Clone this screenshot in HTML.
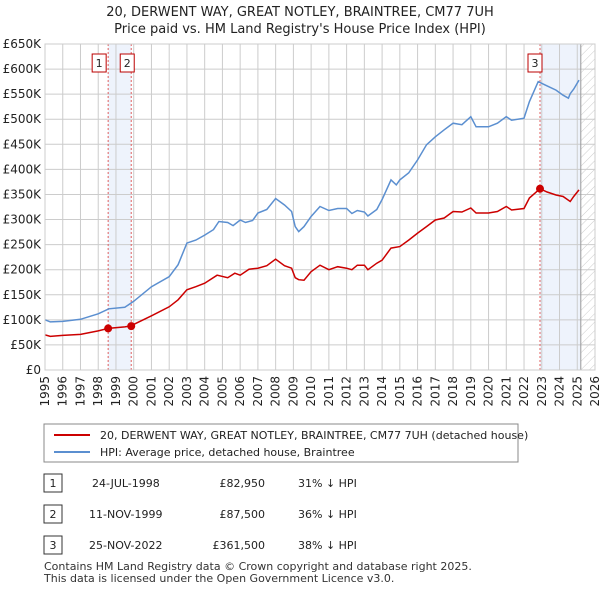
<!DOCTYPE html>
<html><head><meta charset="utf-8"><style>
body{margin:0;background:#fff;font-family:"Liberation Sans",sans-serif;}
svg text{font-family:"DejaVu Sans","Liberation Sans",sans-serif;}
</style></head><body>
<svg id="c" width="600" height="590" xmlns="http://www.w3.org/2000/svg">
<defs><pattern id="hatch" width="6" height="6" patternUnits="userSpaceOnUse" patternTransform="rotate(45)"><line x1="0" y1="0" x2="0" y2="6" stroke="#ccc" stroke-width="1"/></pattern></defs>
<text x="300" y="16" font-size="13" text-anchor="middle" fill="#222">20, DERWENT WAY, GREAT NOTLEY, BRAINTREE, CM77 7UH</text>
<text x="300" y="33" font-size="13" text-anchor="middle" fill="#222">Price paid vs. HM Land Registry's House Price Index (HPI)</text>
<g id="plot"></g>
<g>
<rect x="44" y="424" width="474" height="38" fill="#fff" stroke="#888"/>
<line x1="54" y1="435" x2="90" y2="435" stroke="#cc0000" stroke-width="2"/>
<text x="100" y="439" font-size="11" fill="#222">20, DERWENT WAY, GREAT NOTLEY, BRAINTREE, CM77 7UH (detached house)</text>
<line x1="54" y1="452" x2="90" y2="452" stroke="#5b8fd0" stroke-width="2"/>
<text x="100" y="456" font-size="11" fill="#222">HPI: Average price, detached house, Braintree</text>
</g>
<g font-size="11" fill="#222">
<rect x="44" y="474" width="18" height="18" fill="#fff" stroke="#333"/><text x="53" y="487" text-anchor="middle">1</text>
<text x="92" y="487">24-JUL-1998</text><text x="265" y="487" text-anchor="end">£82,950</text><text x="298" y="487">31% ↓ HPI</text>
<rect x="44" y="505" width="18" height="18" fill="#fff" stroke="#333"/><text x="53" y="518" text-anchor="middle">2</text>
<text x="89" y="518">11-NOV-1999</text><text x="265" y="518" text-anchor="end">£87,500</text><text x="298" y="518">36% ↓ HPI</text>
<rect x="44" y="536" width="18" height="18" fill="#fff" stroke="#333"/><text x="53" y="549" text-anchor="middle">3</text>
<text x="89" y="549">25-NOV-2022</text><text x="265" y="549" text-anchor="end">£361,500</text><text x="298" y="549">38% ↓ HPI</text>
</g>
<text x="44" y="570" font-size="11" fill="#333">Contains HM Land Registry data © Crown copyright and database right 2025.</text>
<text x="44" y="582" font-size="11" fill="#333">This data is licensed under the Open Government Licence v3.0.</text>
</svg>
<script>
const hpiYears=[1995,1995.3,1996,1997,1998,1998.6,1999.5,2000,2001,2002,2002.5,2003,2003.5,2004,2004.5,2004.8,2005.3,2005.6,2006,2006.3,2006.7,2007,2007.5,2008,2008.5,2008.9,2009.1,2009.3,2009.6,2010,2010.5,2011,2011.5,2012,2012.3,2012.6,2013,2013.2,2013.7,2014,2014.5,2014.8,2015,2015.5,2016,2016.5,2017,2017.5,2018,2018.5,2019,2019.3,2020,2020.5,2021,2021.3,2022,2022.3,2022.8,2023.2,2023.8,2024.2,2024.5,2024.6,2024.8,2025.1];
const hpiValues=[100,96,97,101,112,122,125,137,166,186,210,253,259,269,280,296,294,288,299,294,298,313,320,342,329,316,286,276,286,306,326,318,322,322,312,318,315,307,320,340,379,369,379,393,419,449,465,479,492,489,505,485,485,492,505,498,502,535,575,568,558,548,542,551,560,578];
const ppYears=[1995,1995.3,1996,1997,1998,1998.56,1999.5,1999.86,2000,2001,2002,2002.5,2003,2003.5,2004,2004.7,2005.3,2005.7,2006,2006.5,2007,2007.5,2008,2008.5,2008.9,2009.1,2009.3,2009.6,2010,2010.5,2011,2011.5,2012,2012.3,2012.6,2013,2013.2,2013.7,2014,2014.5,2015,2015.5,2016,2016.5,2017,2017.5,2018,2018.5,2019,2019.3,2020,2020.5,2021,2021.3,2022,2022.3,2022.9,2023.3,2023.8,2024.2,2024.6,2024.8,2025.1];
const ppValues=[70,67,69,71,78,83,86,88,91,108,126,140,160,166,173,189,184,193,189,201,203,208,221,208,203,184,180,179,196,209,200,206,203,200,209,209,200,213,219,243,246,259,273,286,299,303,316,315,323,313,313,316,326,319,322,343,361.5,355,349,346,336,346,359];
const saleYears=[1998.56,1999.86,2022.9];
const saleValues=[82.95,87.5,361.5];
const saleLabels=["1","2","3"];
const yTicks=[0,50,100,150,200,250,300,350,400,450,500,550,600,650];
const yTickLabels=["£0","£50K","£100K","£150K","£200K","£250K","£300K","£350K","£400K","£450K","£500K","£550K","£600K","£650K"];
const xTicks=[1995,1996,1997,1998,1999,2000,2001,2002,2003,2004,2005,2006,2007,2008,2009,2010,2011,2012,2013,2014,2015,2016,2017,2018,2019,2020,2021,2022,2023,2024,2025,2026];
const L=45,R=595,T=44,B=370,X0=1995,X1=2026,Y1=650,DATA_END=2025.2;
const sx=v=>L+(v-X0)/(X1-X0)*(R-L);
const sy=v=>B-v/Y1*(B-T);
const NS="http://www.w3.org/2000/svg";
const g=document.getElementById('plot');
function mk(t,a,p){const e=document.createElementNS(NS,t);for(const k in a)e.setAttribute(k,a[k]);(p||g).appendChild(e);return e;}
let e;
e=mk('rect',{x:sx(saleYears[0]),y:T,width:sx(saleYears[1])-sx(saleYears[0]),height:B-T,fill:'#eef3fc'});


e=mk('rect',{x:sx(saleYears[2]),y:T,width:sx(DATA_END)-sx(saleYears[2]),height:B-T,fill:'#eef3fc'});


e=mk('rect',{x:sx(DATA_END),y:T,width:R-sx(DATA_END),height:B-T,fill:'url(#hatch)'});


yTicks.forEach((v,i)=>{
 e=mk('line',{x1:L,x2:R,y1:sy(v),y2:sy(v),stroke:'#ccc'});
 
 
 e=mk('text',{x:L-4,y:sy(v)+4,'font-size':12,'text-anchor':'end',fill:'#222'});
 e.textContent=yTickLabels[i];
 
 
});
xTicks.forEach(v=>{
 e=mk('line',{x1:sx(v),x2:sx(v),y1:T,y2:B,stroke:'#ccc'});
 
 
 e=mk('text',{x:0,y:0,'font-size':12,'text-anchor':'end',fill:'#222',transform:`translate(${sx(v)+4},${B+6}) rotate(-90)`});
 e.textContent=v;
 
 
});
e=mk('line',{x1:sx(DATA_END),x2:sx(DATA_END),y1:T,y2:B,stroke:'#999'});


saleYears.forEach((v,i)=>{
 e=mk('line',{x1:sx(v),x2:sx(v),y1:T,y2:B,stroke:'#e06060','stroke-dasharray':'2,2'});
 
 
 const bx=sx(v)+(i==0?-9:(i==1?-4:-5));
 e=mk('rect',{x:bx-7,y:54,width:14,height:18,fill:'#fff',stroke:'#b00'});
 
 
 e=mk('text',{x:bx,y:67,'font-size':11,'text-anchor':'middle',fill:'#222'});
 e.textContent=saleLabels[i];
 
 
});
const line=(xs,ys)=>xs.map((x,i)=>(i?'L':'M')+sx(x).toFixed(1)+','+sy(ys[i]).toFixed(1)).join('');
e=mk('path',{d:line(hpiYears,hpiValues),fill:'none',stroke:'#5b8fd0','stroke-width':1.5});


e=mk('path',{d:line(ppYears,ppValues),fill:'none',stroke:'#cc0000','stroke-width':1.5});


saleYears.forEach((v,i)=>{
 e=mk('circle',{cx:sx(v),cy:sy(saleValues[i]),r:4,fill:'#cc0000'});
 
 
});
e=mk('rect',{x:L,y:T,width:R-L,height:B-T,fill:'none',stroke:'#ccc'});


</script>
</body></html>
